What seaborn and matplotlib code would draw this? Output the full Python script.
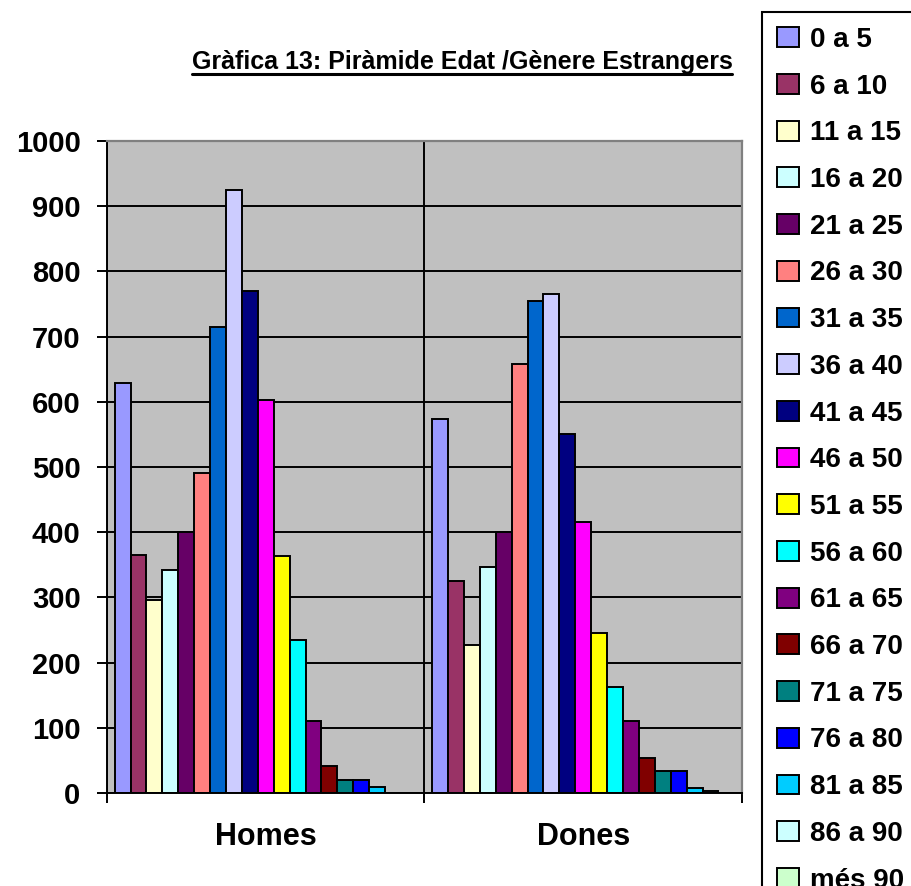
import matplotlib
matplotlib.use("Agg")
import matplotlib.pyplot as plt
from matplotlib.patches import Patch, Rectangle
from matplotlib.lines import Line2D
import seaborn as sns
import pandas as pd

# ---- data ----
sexes = ["Homes", "Dones"]
edats = ["0 a 5", "6 a 10", "11 a 15", "16 a 20", "21 a 25", "26 a 30", "31 a 35",
         "36 a 40", "41 a 45", "46 a 50", "51 a 55", "56 a 60", "61 a 65", "66 a 70",
         "71 a 75", "76 a 80", "81 a 85", "86 a 90", "més 90"]
homes = [629, 365, 296, 342, 400, 491, 715, 925, 770, 602, 364, 234, 110, 42, 20, 20, 9, 0, 0]
dones = [574, 325, 227, 347, 400, 658, 755, 766, 550, 415, 245, 162, 111, 53, 34, 34, 7, 3, 0]
colors = ["#9999FF", "#993366", "#FFFFCC", "#CCFFFF", "#660066", "#FF8080", "#0066CC",
          "#CCCCFF", "#000080", "#FF00FF", "#FFFF00", "#00FFFF", "#800080", "#800000",
          "#008080", "#0000FF", "#00CCFF", "#CCFFFF", "#CCFFCC"]
yticks = [0, 100, 200, 300, 400, 500, 600, 700, 800, 900, 1000]
title = "Gràfica 13: Piràmide Edat /Gènere Estrangers"

df = pd.DataFrame({
    "sexe": [s for s in sexes for _ in edats],
    "edat": edats * 2,
    "valor": homes + dones,
})

sns.set_style("white")
plt.rcParams["font.family"] = ["Liberation Sans", "DejaVu Sans"]
plt.rcParams["text.color"] = "black"
plt.rcParams["xtick.color"] = "black"
plt.rcParams["ytick.color"] = "black"
plt.rcParams["axes.labelcolor"] = "black"

W, H = 912, 886
fig = plt.figure(figsize=(W / 100, H / 100), dpi=100)
fig.patch.set_facecolor("white")
ax = fig.add_axes([107 / W, 1 - 793 / H, (742 - 107) / W, (793 - 141) / H])

sns.barplot(data=df, x="sexe", y="valor", hue="edat", order=sexes, hue_order=edats,
            palette=colors, width=0.952, edgecolor="black", linewidth=1.4,
            errorbar=None, saturation=1, legend=False, ax=ax)

ax.set_facecolor("#C0C0C0")
ax.set_xlim(-0.5, 1.5)
ax.set_ylim(0, 1000)
ax.set_yticks(yticks)
ax.set_yticklabels([str(v) for v in yticks], fontsize=21, fontweight="bold", color="black")
ax.set_xticks([0, 1])
ax.set_xticklabels(sexes, fontsize=22, fontweight="bold", color="black")
ax.set_xticks([-0.5, 0.5, 1.5], minor=True)
ax.set_xlabel("")
ax.set_ylabel("")

ax.set_axisbelow(True)
ax.yaxis.grid(True, which="major", color="black", linewidth=1.4)
ax.xaxis.grid(True, which="minor", color="black", linewidth=1.4)
ax.xaxis.grid(False, which="major")

ax.tick_params(axis="y", which="major", direction="out", length=7, width=1.4,
               color="black", pad=12, left=True)
ax.tick_params(axis="x", which="major", length=0, pad=21)
ax.tick_params(axis="x", which="minor", direction="out", length=7, width=1.4,
               color="black", bottom=True)

for side in ["left", "bottom"]:
    ax.spines[side].set_color("black")
    ax.spines[side].set_linewidth(1.4)
for side in ["top", "right"]:
    ax.spines[side].set_color("#808080")
    ax.spines[side].set_linewidth(1.6)
    ax.spines[side].set_visible(True)

# ---- title with underline ----
t = fig.text(462 / W, 1 - 62 / H, title, ha="center", va="center",
             fontsize=18, fontweight="bold", color="black")
fig.canvas.draw()
bb = t.get_window_extent()
uy = 1 - 74 / H
fig.add_artist(Line2D([bb.x0 / W, bb.x1 / W], [uy, uy], transform=fig.transFigure,
                      color="black", linewidth=2.2))

# ---- legend ----
handles = [Patch(facecolor=c, edgecolor="black", linewidth=1.4) for c in colors]
leg = fig.legend(handles, edats, loc="upper left", bbox_to_anchor=(762 / W, 1 - 12 / H),
                 frameon=False, prop={"weight": "bold", "size": 20},
                 handlelength=0.8, handleheight=0.72, handletextpad=0.4,
                 labelspacing=0.745, borderpad=0.54, borderaxespad=0)
for txt in leg.get_texts():
    txt.set_color("black")
fig.add_artist(Rectangle((762 / W, -0.1), 0.5, (H - 12) / H + 0.1,
                         transform=fig.transFigure, fill=False,
                         edgecolor="black", linewidth=1.5))

fig.savefig("out.png", dpi=100)
